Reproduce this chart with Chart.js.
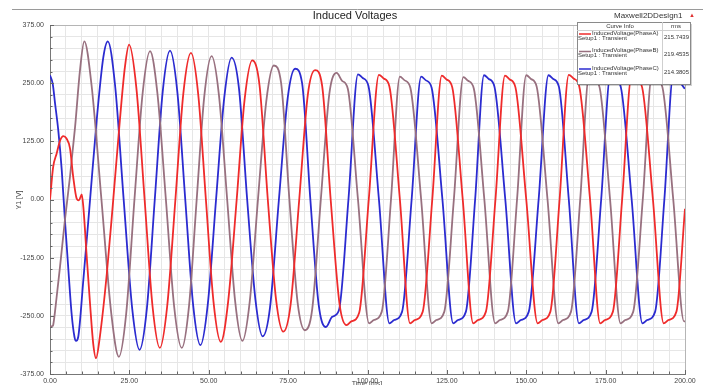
<!DOCTYPE html>
<html>
<head>
<meta charset="utf-8">
<title>Induced Voltages</title>
<script src="https://cdn.jsdelivr.net/npm/chart.js@4.4.1/dist/chart.umd.min.js"></script>
<style>
    body { margin: 0; background: #fff; }
    #voltageChart { display: block; }
</style>
</head>
<body>
<canvas id="voltageChart" width="703" height="385"></canvas>
<script>
// Phase A samples: time [ms] and induced voltage [V]
const phaseATime = [
    0, 1.0, 2.1, 3.2, 4.2, 5.2, 6.3, 7.3, 8.4, 9.1, 10.0, 10.5, 11.5, 12.6, 13.6, 14.5,
    15.7, 17.9, 19.9, 22.0, 23.6, 24.9, 27.2, 29.8, 32.3, 34.6, 36.9, 39.5, 42.0, 44.4,
    46.7, 49.1, 51.5, 53.8, 56.1, 58.8, 61.3, 63.7, 66.0, 68.6, 71.2, 73.5, 75.8, 78.5,
    81.2, 83.5, 85.7, 88.4, 91.2, 93.4, 94.9, 97.4, 100.4, 103.6, 105.1, 106.9, 110.2,
    113.4, 114.9, 117.4, 120.4, 123.4, 124.9, 126.7, 130.0, 133.3, 134.8, 137.3, 140.3,
    143.3, 144.8, 146.6, 150.0, 153.6, 155.1, 157.6, 160.5, 163.4, 164.9, 166.7, 170.1,
    173.3, 174.8, 177.3, 180.2, 183.2, 184.7, 186.5, 189.9, 193.3, 194.8, 197.3, 200.0
];
const phaseAVolt = [
    0, 70, 99, 127, 136, 131, 110, 49, 2, -2, 11, -16, -116, -223, -309, -341,
    -295, -159, -2, 170, 285, 333, 240, 0, -230, -319, -230, 0, 228, 315,
    225, 0, -220, -306, -220, 0, 215, 299, 245, 0, -215, -284, -225, 0,
    225, 278, 245, 0, -225, -270, -262, -243, 0, 268, 260, 243, 0,
    -266, -259, -241, 0, 266, 258, 241, 0, -266, -259, -241, 0,
    266, 258, 241, 0, -266, -259, -241, 0, 268, 260, 243, 0,
    -266, -259, -241, 0, 266, 258, 241, 0, -266, -259, -241, -20
];

// Phase B samples
const phaseBTime = [
    0, 0.8, 1.05, 2.1, 3.15, 4.7, 6.3, 7.9, 9.45, 10.8, 13.1, 16.2, 19.3, 21.7, 24.0,
    26.6, 29.2, 31.5, 33.8, 36.5, 39.1, 41.5, 43.8, 46.2, 48.6, 50.9, 53.2, 55.8, 58.3,
    60.6, 62.9, 65.5, 68.1, 70.5, 72.8, 75.4, 78.0, 80.3, 82.6, 85.3, 88.0, 90.3, 92.0,
    93.8, 97.0, 100.5, 102.0, 104.5, 107.4, 110.2, 111.7, 113.5, 116.9, 120.2, 121.7,
    124.2, 127.2, 130.2, 131.7, 133.5, 136.8, 140.2, 141.7, 144.2, 147.1, 150.0, 151.5,
    153.3, 156.7, 160.1, 161.6, 164.1, 167.0, 169.8, 171.3, 173.1, 176.4, 179.7, 181.2,
    183.7, 186.7, 189.6, 191.1, 192.9, 196.3, 199.7, 200.0
];
const phaseBVolt = [
    -273, -272, -268, -209, -145, -44, 49, 156, 278, 340, 245, 0, -245, -338, -245,
    0, 230, 319, 230, 0, -230, -319, -228, 0, 222, 308, 225, 0, -218,
    -304, -220, 0, 210, 288, 250, 0, -222, -281, -235, 0, 228, 272, 255,
    238, 0, -266, -259, -241, 0, 264, 256, 240, 0, -266, -259,
    -241, 0, 263, 255, 238, 0, -266, -259, -241, 0, 267, 259,
    242, 0, -266, -259, -241, 0, 266, 258, 241, 0, -266, -259,
    -241, 0, 266, 258, 241, 0, -262, -262
];

// Phase C samples
const phaseCTime = [
    0, 0.85, 1.6, 2.6, 3.7, 4.7, 5.8, 6.8, 7.7, 8.2, 8.9, 10.5, 12.6, 14.7, 16.8, 18.2,
    20.5, 23.2, 25.9, 28.2, 30.5, 33.0, 35.5, 37.8, 40.1, 42.6, 45.1, 47.4, 49.7, 52.3,
    54.9, 57.2, 59.5, 62.1, 64.7, 67.0, 69.3, 72.1, 74.9, 77.2, 79.4, 82.0, 84.6, 86.9,
    88.9, 91.0, 94.0, 97.0, 98.5, 100.3, 103.6, 106.9, 108.4, 110.9, 113.9, 116.9, 118.4,
    120.2, 123.6, 127.0, 128.5, 131.0, 133.9, 136.7, 138.2, 140.0, 143.4, 146.8, 148.3,
    150.8, 153.9, 157.0, 158.5, 160.3, 163.4, 166.6, 168.1, 170.6, 173.6, 176.5, 178.0,
    179.8, 183.2, 186.6, 188.1, 190.6, 193.5, 196.3, 197.8, 199.6, 200.0
];
const phaseCVolt = [
    267, 249, 206, 149, 63, -44, -152, -245, -295, -304, -295, -173, -2, 170, 306, 340,
    245, 0, -235, -323, -235, 0, 232, 320, 232, 0, -228, -313, -225, 0,
    220, 305, 240, 0, -215, -294, -232, 0, 220, 281, 250, 0, -225, -274,
    -252, -238, 0, 269, 261, 244, 0, -266, -259, -241, 0, 264, 256,
    240, 0, -266, -259, -241, 0, 267, 259, 242, 0, -266, -259,
    -241, 0, 267, 259, 242, 0, -266, -259, -241, 0, 266, 258,
    241, 0, -266, -259, -241, 0, 266, 258, 241, 238
];

// Curve info table
const curveNames = ['InducedVoltage(PhaseA)', 'InducedVoltage(PhaseB)', 'InducedVoltage(PhaseC)'];
const rmsValues = ['215.7439', '219.4535', '214.3805'];
const curveColors = ['#ef2b2b', '#98707f', '#2b2bd0'];

// Labelled ticks
const xTickLabels = [0, 25, 50, 75, 100, 125, 150, 175, 200];
const yTickLabels = [-375, -250, -125, 0, 125, 250, 375];

const FONT = 'Arial, "Liberation Sans", sans-serif';

function toPoints(times, volts) {
    return times.map((t, i) => ({ x: t, y: volts[i] }));
}

// Header, axis titles, axis tick marks and the curve info box
const plotDecor = {
    id: 'plotDecor',
    afterDraw(chart) {
        const ctx = chart.ctx;
        const area = chart.chartArea;
        const xs = chart.scales.x;
        const ys = chart.scales.y;
        ctx.save();

        // frame on the right and top
        ctx.strokeStyle = '#b5b5b5';
        ctx.lineWidth = 1;
        ctx.beginPath();
        ctx.moveTo(area.left, area.top + 0.5);
        ctx.lineTo(area.right + 0.5, area.top + 0.5);
        ctx.lineTo(area.right + 0.5, area.bottom);
        ctx.stroke();

        // small tick marks along the axes
        ctx.strokeStyle = '#666';
        ctx.beginPath();
        for (let t = 0; t <= 200; t += 5) {
            const px = Math.round(xs.getPixelForValue(t)) + 0.5;
            ctx.moveTo(px, area.bottom);
            ctx.lineTo(px, area.bottom - (t % 25 === 0 ? 4 : 2.5));
        }
        for (let v = -375; v <= 375; v += 25) {
            const py = Math.round(ys.getPixelForValue(v)) + 0.5;
            ctx.moveTo(area.left, py);
            ctx.lineTo(area.left + (v % 125 === 0 ? 4 : 2.5), py);
        }
        ctx.stroke();

        // header bar
        ctx.strokeStyle = '#9a9a9a';
        ctx.beginPath();
        ctx.moveTo(12, 9.5);
        ctx.lineTo(703, 9.5);
        ctx.stroke();

        ctx.fillStyle = '#222';
        ctx.font = '11px ' + FONT;
        ctx.textAlign = 'center';
        ctx.textBaseline = 'middle';
        ctx.fillText('Induced Voltages', 355, 16);

        ctx.font = '8px ' + FONT;
        ctx.textAlign = 'left';
        ctx.fillStyle = '#333';
        ctx.fillText('Maxwell2DDesign1', 614, 16);
        ctx.fillStyle = '#e03030';
        ctx.font = '6px ' + FONT;
        ctx.fillText('\u25B2', 689, 15);

        // axis titles
        ctx.fillStyle = '#444';
        ctx.font = '7px ' + FONT;
        ctx.save();
        ctx.translate(19, 200);
        ctx.rotate(-Math.PI / 2);
        ctx.textAlign = 'center';
        ctx.fillText('Y1 [V]', 0, 0);
        ctx.restore();
        ctx.textAlign = 'center';
        ctx.textBaseline = 'top';
        ctx.fillText('Time [ms]', 367, 381);

        // curve info box
        const bx = 577, by = 22, bw = 113, bh = 62, colX = 662;
        ctx.fillStyle = 'rgba(0,0,0,0.18)';
        ctx.fillRect(bx + 2, by + 2, bw, bh);
        ctx.fillStyle = '#fff';
        ctx.fillRect(bx, by, bw, bh);
        ctx.strokeStyle = '#8a8a8a';
        ctx.strokeRect(bx + 0.5, by + 0.5, bw, bh);
        ctx.strokeStyle = '#cfcfcf';
        ctx.beginPath();
        ctx.moveTo(bx, by + 8.5);
        ctx.lineTo(bx + bw, by + 8.5);
        ctx.moveTo(colX + 0.5, by);
        ctx.lineTo(colX + 0.5, by + bh);
        ctx.stroke();

        ctx.fillStyle = '#333';
        ctx.font = '6px ' + FONT;
        ctx.textBaseline = 'middle';
        ctx.textAlign = 'center';
        ctx.fillText('Curve Info', 620, by + 4.5);
        ctx.fillText('rms', 676, by + 4.5);

        curveNames.forEach((name, i) => {
            const ry = 33 + i * 17.5;
            ctx.strokeStyle = curveColors[i];
            ctx.lineWidth = 1.5;
            ctx.beginPath();
            ctx.moveTo(579, ry + 1);
            ctx.lineTo(591, ry + 1);
            ctx.stroke();
            ctx.fillStyle = '#333';
            ctx.textAlign = 'left';
            ctx.fillText(name, 592, ry, colX - 593);
            ctx.fillText('Setup1 : Transient', 578, ry + 5);
            ctx.fillText(rmsValues[i], 664, ry + 4, 25);
        });

        ctx.restore();
    }
};

const ctx = document.getElementById('voltageChart').getContext('2d');
const voltageChart = new Chart(ctx, {
    type: 'line',
    data: {
        datasets: [
            { label: curveNames[0], data: toPoints(phaseATime, phaseAVolt), borderColor: curveColors[0] },
            { label: curveNames[1], data: toPoints(phaseBTime, phaseBVolt), borderColor: curveColors[1] },
            { label: curveNames[2], data: toPoints(phaseCTime, phaseCVolt), borderColor: curveColors[2] }
        ]
    },
    options: {
        responsive: false,
        animation: false,
        layout: { padding: { top: 25, right: 18, left: 0, bottom: 0 } },
        elements: {
            line: { borderWidth: 1.8, cubicInterpolationMode: 'monotone' },
            point: { radius: 0 }
        },
        plugins: {
            legend: { display: false },
            tooltip: { enabled: false }
        },
        scales: {
            x: {
                type: 'linear',
                min: 0,
                max: 200,
                afterFit: scale => { scale.height = 11; },
                ticks: {
                    stepSize: 5,
                    autoSkip: false,
                    maxRotation: 0,
                    padding: 3,
                    color: '#444',
                    font: { size: 7, family: FONT },
                    callback: value => xTickLabels.includes(value) ? value.toFixed(2) : ''
                },
                grid: { color: '#e6e6e6', drawTicks: false },
                border: { color: '#777' }
            },
            y: {
                type: 'linear',
                min: -375,
                max: 375,
                afterFit: scale => { scale.width = 50; },
                ticks: {
                    stepSize: 25,
                    autoSkip: false,
                    padding: 6,
                    color: '#444',
                    font: { size: 7, family: FONT },
                    callback: value => yTickLabels.includes(value) ? value.toFixed(2) : ''
                },
                grid: { color: '#e6e6e6', drawTicks: false },
                border: { color: '#777' }
            }
        }
    },
    plugins: [plotDecor]
});
</script>
</body>
</html>
